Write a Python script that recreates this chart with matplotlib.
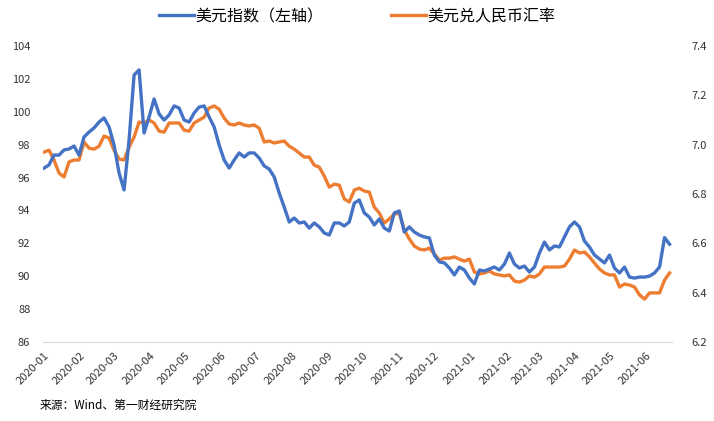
import matplotlib.pyplot as plt
import matplotlib.dates as mdates
import pandas as pd

plt.rcParams['font.family'] = ['Noto Sans CJK SC', 'DejaVu Sans']

# sample dates (roughly every 4.3 days, Jan 2020 - Jun 2021)
dates = pd.date_range('2020-01-01', '2021-06-21', periods=126)

# US dollar index (left axis)
dxy = [96.58, 96.77, 97.37, 97.37, 97.68, 97.74, 97.92, 97.37, 98.47, 98.77,
       99.02, 99.38, 99.63, 99.08, 97.98, 96.28, 95.25, 98.29, 102.24, 102.55,
       98.71, 99.69, 100.78, 99.87, 99.50, 99.81, 100.36, 100.23, 99.50, 99.38,
       99.93, 100.29, 100.36, 99.69, 99.08, 97.98, 97.07, 96.58, 97.07, 97.50,
       97.25, 97.50, 97.50, 97.19, 96.71, 96.52, 96.04, 95.06, 94.21, 93.30,
       93.54, 93.24, 93.30, 92.93, 93.24, 93.00, 92.63, 92.51, 93.24, 93.24,
       93.06, 93.30, 94.45, 94.64, 93.85, 93.60, 93.12, 93.48, 92.93, 92.75,
       93.85, 93.97, 92.69, 93.00, 92.69, 92.51, 92.39, 92.33, 91.29, 90.87,
       90.81, 90.50, 90.08, 90.56, 90.38, 89.89, 89.53, 90.38, 90.32, 90.44,
       90.56, 90.38, 90.74, 91.41, 90.74, 90.50, 90.62, 90.26, 90.56, 91.41,
       92.08, 91.60, 91.84, 91.78, 92.39, 93.00, 93.30, 93.00, 92.14, 91.78,
       91.29, 91.05, 90.81, 91.29, 90.50, 90.20, 90.56, 89.95, 89.89, 89.95,
       89.95, 90.01, 90.20, 90.56, 92.35, 91.95]

# USD/CNY (right axis)
usdcny = [6.970, 6.978, 6.938, 6.885, 6.869, 6.930, 6.938, 6.938, 7.011, 6.986,
          6.982, 6.994, 7.035, 7.027, 6.978, 6.942, 6.938, 6.990, 7.031, 7.092,
          7.088, 7.100, 7.088, 7.055, 7.051, 7.088, 7.088, 7.088, 7.059, 7.055,
          7.088, 7.100, 7.112, 7.149, 7.157, 7.144, 7.108, 7.084, 7.080, 7.088,
          7.080, 7.076, 7.080, 7.067, 7.011, 7.015, 7.007, 7.011, 7.015, 6.994,
          6.982, 6.966, 6.950, 6.950, 6.917, 6.909, 6.873, 6.828, 6.840, 6.836,
          6.780, 6.768, 6.816, 6.824, 6.812, 6.808, 6.747, 6.723, 6.682, 6.699,
          6.719, 6.723, 6.654, 6.618, 6.589, 6.577, 6.573, 6.581, 6.557, 6.532,
          6.540, 6.540, 6.545, 6.536, 6.528, 6.536, 6.484, 6.476, 6.480, 6.488,
          6.476, 6.472, 6.468, 6.472, 6.447, 6.443, 6.451, 6.468, 6.463, 6.476,
          6.504, 6.504, 6.504, 6.504, 6.508, 6.536, 6.573, 6.561, 6.565, 6.545,
          6.520, 6.496, 6.480, 6.472, 6.472, 6.423, 6.435, 6.431, 6.423, 6.391,
          6.374, 6.399, 6.399, 6.399, 6.451, 6.480]

right_ticks = [6.2, 6.4, 6.6, 6.8, 7.0, 7.2, 7.4]

blue = '#4472C4'
orange = '#ED7D31'

fig = plt.figure(figsize=(7.14, 4.21), dpi=100)
ax = fig.add_axes([0.060, 0.1876, 0.881, 0.703])
ax2 = ax.twinx()

l1, = ax.plot(dates, dxy, color=blue, lw=2.4, label='美元指数（左轴）')
l2, = ax2.plot(dates, usdcny, color=orange, lw=2.4, label='美元兑人民币汇率')
ax.set_zorder(ax2.get_zorder() + 1)
ax.patch.set_visible(False)

ax.set_ylim(86, 104)
ax.set_yticks(range(86, 105, 2))
ax2.set_ylim(6.2, 7.4)
ax2.set_yticks(right_ticks)
ax2.set_yticklabels([f'{v:.1f}' for v in right_ticks])

ax.set_xlim(pd.Timestamp('2019-12-31'), pd.Timestamp('2021-06-23'))
ax.xaxis.set_major_locator(mdates.MonthLocator())
ax.xaxis.set_major_formatter(mdates.DateFormatter('%Y-%m'))
for lab in ax.get_xticklabels():
    lab.set_rotation(45)
    lab.set_ha('right')
    lab.set_rotation_mode('anchor')

for a in (ax, ax2):
    for s in a.spines.values():
        s.set_visible(False)
    a.tick_params(length=0, labelsize=8, colors='#333333')
ax.spines['bottom'].set_visible(True)
ax.spines['bottom'].set_color('#d9d9d9')
ax.tick_params(axis='y', pad=9)
ax.tick_params(axis='x', pad=6)
ax2.tick_params(axis='y', pad=14)

fig.legend(handles=[l1, l2], loc='upper center', bbox_to_anchor=(0.5, 1.015),
           ncol=2, frameon=False, fontsize=11.5, handlelength=2.2,
           handletextpad=0.1, columnspacing=4.2)

fig.text(0.055, 0.03, '来源：Wind、第一财经研究院', fontsize=8.5, color='#000000')

fig.savefig('out.png', dpi=100)
